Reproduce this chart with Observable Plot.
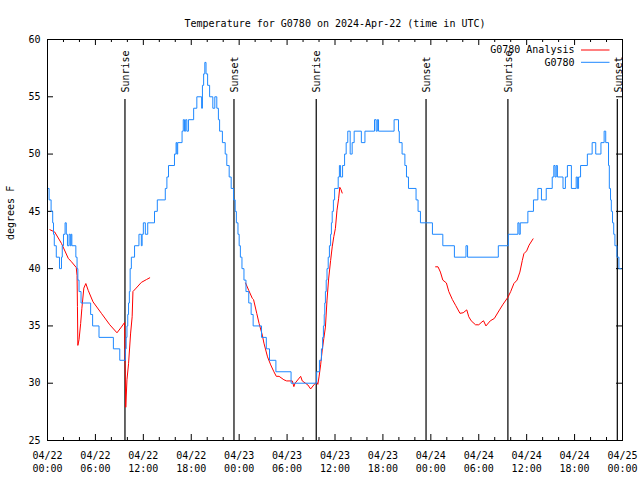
<!DOCTYPE html>
<html><head><meta charset="utf-8">
<script src="https://cdn.jsdelivr.net/npm/d3@7"></script>
<script src="https://cdn.jsdelivr.net/npm/@observablehq/plot@0.6"></script>
<style>body{margin:0;background:#fff} svg{display:block}</style>
</head><body><div id="chart"></div>
<script>
// ---- data (x = hours since 2024-04-22 00:00 UTC) ----
const title = "Temperature for G0780 on 2024-Apr-22 (time in UTC)";
const yLabel = "degrees F";
const xTicks = [0, 6, 12, 18, 24, 30, 36, 42, 48, 54, 60, 66, 72];
const xTickLabels = ["04/22\n00:00","04/22\n06:00","04/22\n12:00","04/22\n18:00",
  "04/23\n00:00","04/23\n06:00","04/23\n12:00","04/23\n18:00",
  "04/24\n00:00","04/24\n06:00","04/24\n12:00","04/24\n18:00","04/25\n00:00"];
const xMinorTicks = [2,4,8,10,14,16,20,22,26,28,32,34,38,40,44,46,50,52,56,58,62,64,68,70];
const yTicks = [25, 30, 35, 40, 45, 50, 55, 60];
const eventHours = [9.7, 23.35, 33.65, 47.4, 57.65, 71.35];
const eventLabels = ["Sunrise", "Sunset", "Sunrise", "Sunset", "Sunrise", "Sunset"];
const seriesNames = ["G0780 Analysis", "G0780"];
const seriesColors = ["#ff0000", "#1e88ff"];

// G0780 observations [hour, degF] (value holds until next point)
const obs = [
  [0.0,47],[0.2,46],[0.45,45],[0.65,44],[0.75,43],[0.85,42],[1.1,41],[1.5,40],[1.75,41],[1.85,42],
  [2.0,43],[2.2,44],[2.35,43],[2.5,42],[2.7,43],[2.85,42],[2.95,43],[3.05,42],[3.55,41],[3.7,40],
  [3.8,39],[3.95,38],[4.2,37],[5.4,36],[5.65,35],[6.45,34],[8.25,33],[9.05,32],[9.75,33],[9.85,34],
  [9.95,35],[10.05,36],[10.15,37],[10.25,38],[10.35,40],[10.5,41],[10.9,42],[11.45,43],[11.75,42],[11.85,43],
  [12.0,44],[12.25,43],[12.55,44],[13.4,45],[13.75,46],[14.75,47],[14.95,48],[15.15,49],[15.9,50],[16.1,51],
  [16.2,50],[16.3,51],[16.85,52],[17.0,53],[17.15,52],[17.3,53],[17.45,52],[17.65,53],[18.3,54],[18.7,55],
  [19.3,54],[19.4,56],[19.55,57],[19.7,58],[19.85,57],[20.05,56],[20.3,55],[20.7,54],[20.95,55],[21.2,54],
  [21.4,53],[21.55,52],[21.9,51],[22.25,50],[22.45,49],[22.75,48],[23.0,47],[23.3,46],[23.5,45],[23.65,44],
  [23.85,43],[24.0,42],[24.15,41],[24.35,40],[24.6,39],[24.85,38],[25.2,37],[25.5,36],[25.75,35],[26.8,34],
  [27.4,33],[27.8,32],[28.6,31],[30.5,30],[33.7,31],[34.05,32],[34.3,33],[34.45,34],[34.55,35],[34.65,36],
  [34.72,37],[34.8,38],[34.9,39],[35.0,40],[35.15,41],[35.3,42],[35.45,43],[35.55,44],[35.65,45],[35.8,46],
  [35.95,47],[36.4,48],[36.55,49],[36.7,48],[36.95,49],[37.2,50],[37.4,51],[37.6,52],[37.9,50],[38.15,51],
  [38.4,52],[39.3,51],[39.75,52],[40.95,53],[41.15,52],[41.3,53],[41.45,52],[43.4,53],[43.95,52],[44.05,51],
  [44.4,50],[44.75,49],[44.95,48],[45.2,47],[46.15,46],[46.4,45],[46.7,44],[48.2,43],[49.5,42],[50.95,41],
  [52.4,42],[52.6,41],[56.45,42],[57.7,43],[58.9,44],[59.05,43],[59.2,44],[60.15,45],[60.85,46],[61.4,47],
  [61.85,46],[62.45,47],[63.2,48],[63.4,49],[63.55,48],[63.7,49],[63.85,48],[64.55,47],[64.85,48],[65.1,49],
  [65.6,47],[66.2,48],[66.35,47],[66.5,48],[66.75,49],[67.6,50],[68.2,51],[68.65,50],[69.3,51],[69.7,52],
  [69.9,51],[70.25,49],[70.35,47],[70.5,46],[70.6,45],[70.75,44],[70.9,43],[71.05,42],[71.3,41],[71.55,40],
  [71.85,40]
];

// G0780 Analysis [hour, degF], three separate runs
const anal1 = [
  [0.3,43.4],[0.9,43.2],[1.75,42.2],[2.6,40.9],[3.0,40.6],[3.6,40.1],[3.7,39.4],[3.75,36.7],[3.8,33.3],[3.95,33.8],
  [4.15,35.2],[4.3,36.5],[4.55,38.3],[4.8,38.7],[5.1,38.1],[5.7,37.1],[6.75,36.1],[7.8,35.1],[8.7,34.4],[9.25,34.9],
  [9.65,35.3],[9.72,31.7],[9.8,27.9],[9.95,30.3],[10.15,31.7],[10.4,34.3],[10.6,35.8],[10.7,38.0],[11.1,38.3],[11.75,38.8],
  [12.4,39.05],[12.8,39.2]
];
const anal2 = [
  [24.8,38.75],[25.2,38.1],[25.65,37.4],[25.8,37.3],[26.2,36.1],[26.5,35.2],[26.9,34.2],[27.1,33.5],[27.55,32.3],[27.95,31.6],
  [28.35,31.0],[28.65,30.6],[29.0,30.6],[29.6,30.3],[29.95,30.2],[30.65,30.2],[30.85,29.7],[31.0,30.0],[31.7,30.6],[31.9,30.2],
  [32.3,30.0],[32.6,29.85],[32.95,29.5],[33.35,29.85],[33.7,30.1],[33.85,29.9],[34.0,30.55],[34.2,31.6],[34.4,32.9],[34.6,33.9],
  [34.8,34.9],[35.0,37.25],[35.2,39.1],[35.45,40.7],[35.65,41.9],[35.85,42.8],[36.05,43.5],[36.25,45.1],[36.45,46.1],[36.6,47.1],
  [36.75,46.9],[36.9,46.6]
];
const anal3 = [
  [48.6,40.16],[48.9,40.16],[49.2,39.7],[49.5,39.0],[49.95,38.75],[50.25,38.0],[50.7,37.3],[51.1,36.8],[51.65,36.1],[52.05,36.15],
  [52.5,36.4],[52.75,35.8],[53.05,35.45],[53.6,35.1],[54.0,35.1],[54.4,35.35],[54.6,35.45],[54.9,35.0],[55.45,35.45],[55.95,35.65],
  [56.6,36.4],[57.05,36.9],[57.65,37.5],[58.0,38.0],[58.4,38.7],[58.8,39.0],[59.15,39.7],[59.45,40.7],[59.65,41.3],[60.0,41.55],
  [60.3,42.05],[60.8,42.6]
];

// ---- chart ----
const FONT = "DejaVu Sans Mono";
const frameH = 480 - 39 - 40;
const frameW = 640 - 47 - 18;
const events = eventHours.map((h, i) => ({h, label: eventLabels[i]}));
const analRuns = [anal1, anal2, anal3].flatMap((run, k) => run.map(([h, t]) => ({h, t, run: k})));

function legend(index, scales, values, dims) {
  const g = d3.create("svg:g").attr("font-family", FONT).attr("font-size", 10);
  const right = dims.width - dims.marginRight;
  seriesNames.forEach((name, i) => {
    const y = dims.marginTop + 11 + i * 12.3;
    g.append("text").attr("x", right - 47.5).attr("y", y).attr("dy", "0.32em")
      .attr("text-anchor", "end").attr("fill", "black").text(name);
    g.append("line").attr("x1", right - 41).attr("x2", right - 12.5)
      .attr("y1", y).attr("y2", y).attr("stroke", seriesColors[i]).attr("stroke-width", 1);
  });
  return g.node();
}

const chart = Plot.plot({
  width: 640, height: 480,
  marginLeft: 47, marginRight: 18, marginTop: 39, marginBottom: 40,
  style: {fontFamily: FONT, fontSize: "10px", background: "white", color: "black"},
  x: {type: "linear", domain: [0, 72], axis: null},
  y: {domain: [25, 60], axis: null},
  marks: [
    // ticks (inward, mirrored)
    Plot.ruleX(xTicks, {x: d => d, insetTop: frameH - 6, stroke: "black"}),
    Plot.ruleX(xTicks, {x: d => d, insetBottom: frameH - 6, stroke: "black"}),
    Plot.ruleX(xMinorTicks, {x: d => d, insetTop: frameH - 3, stroke: "black"}),
    Plot.ruleX(xMinorTicks, {x: d => d, insetBottom: frameH - 3, stroke: "black"}),
    Plot.ruleY(yTicks, {y: d => d, insetRight: frameW - 6, stroke: "black"}),
    Plot.ruleY(yTicks, {y: d => d, insetLeft: frameW - 6, stroke: "black"}),
    // tick labels
    Plot.text(xTicks, {x: d => d, text: d => xTickLabels[xTicks.indexOf(d)], frameAnchor: "bottom",
      dy: 9, lineAnchor: "top", lineHeight: 1.3, fill: "black"}),
    Plot.text(yTicks, {y: d => d, text: d => String(d), frameAnchor: "left", dx: -7,
      textAnchor: "end", fill: "black"}),
    Plot.text([yLabel], {frameAnchor: "left", dx: -37, rotate: -90, fill: "black"}),
    Plot.text([title], {frameAnchor: "top", dy: -20, fill: "black"}),
    // sunrise / sunset
    Plot.ruleX(events, {x: "h", insetTop: 60, stroke: "black", strokeWidth: 1.2}),
    Plot.text(events, {x: "h", text: "label", frameAnchor: "top", dy: 53, dx: 1, rotate: -90,
      textAnchor: "start", lineAnchor: "middle", fill: "black"}),
    // data
    Plot.line(analRuns, {x: "h", y: "t", z: "run", stroke: seriesColors[0], strokeWidth: 1}),
    Plot.line(obs, {x: d => d[0], y: d => d[1], curve: "step-after", stroke: seriesColors[1], strokeWidth: 1}),
    Plot.frame({stroke: "black"}),
    legend
  ]
});
document.getElementById("chart").appendChild(chart);
</script>
</body></html>
